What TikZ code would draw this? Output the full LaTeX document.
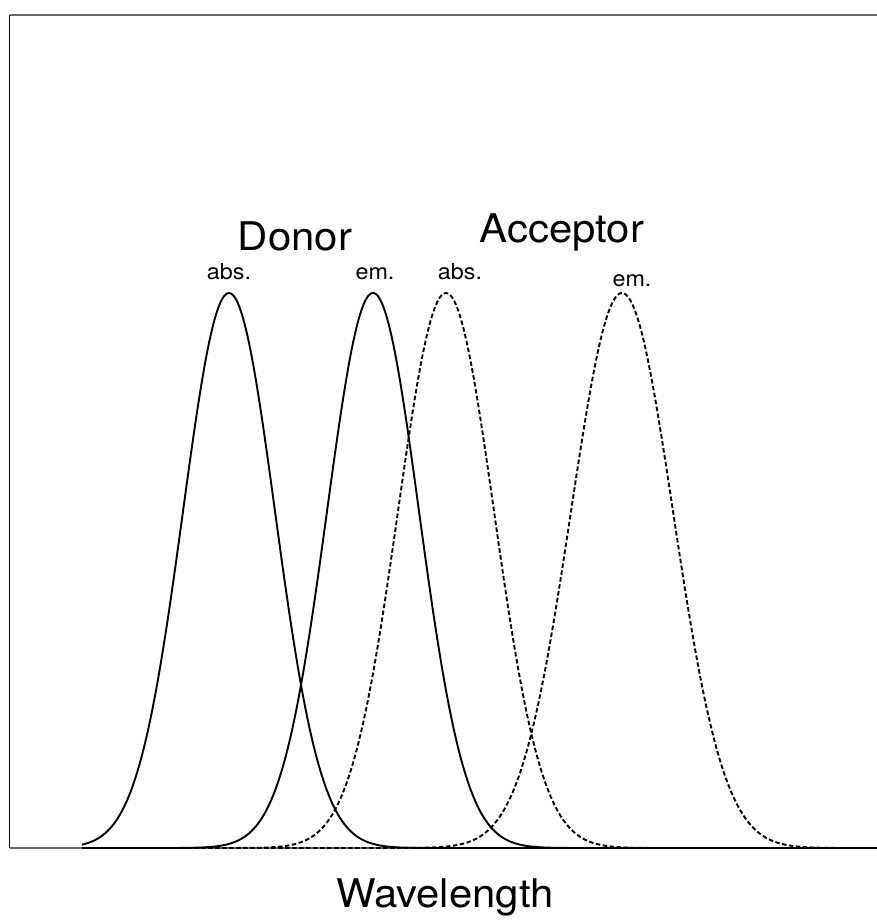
\documentclass[tikz,border=0pt]{standalone}
\usepackage{fontspec}
\setmainfont{TeX Gyre Heros}[FakeStretch=1.06]
\begin{document}
\begin{tikzpicture}[x=1pt,y=-1pt,
  frameline/.style={line width=1.3pt,black!60},
  spectrum/.style={line width=1.9pt,black,line join=round},
  dashspec/.style={spectrum,dash pattern=on 4.5pt off 2.5pt},
  biglabel/.style={font=\fontsize{39.5}{41}\selectfont,anchor=base,inner sep=0pt},
  smalllabel/.style={font=\fontsize{22}{24}\selectfont,anchor=base,inner sep=0pt}]
\useasboundingbox (0,0) rectangle (877,920);
% frame
\coordinate (tl) at (9.5,15);
\coordinate (tr) at (877,15);
\coordinate (bl) at (9.5,848);
\coordinate (br) at (877,848);
\draw[frameline] (tr) -- (tl);
\draw[line width=1.3pt,black] (tl) -- (bl);
\draw[frameline] (bl) -- (br);
% spectra
\draw[spectrum] plot[domain=82:877,samples=320,smooth] (\x,{848-555*exp(-0.5*((\x-229)/46)^2)});
\draw[spectrum] plot[domain=82:877,samples=320,smooth] (\x,{848-555*exp(-0.5*((\x-373)/46)^2)});
\draw[dashspec] plot[domain=82:877,samples=320,smooth] (\x,{848-555*exp(-0.5*((\x-446)/48)^2)});
\draw[dashspec] plot[domain=82:877,samples=320,smooth] (\x,{848-555*exp(-0.5*((\x-622)/51)^2)});
% labels
\node[biglabel] (donor) at (295,250) {Donor};
\node[biglabel] (acceptor) at (562,242) {Acceptor};
\node[smalllabel] (dabs) at (229,279) {abs.};
\node[smalllabel] (dem) at (375,279) {em.};
\node[smalllabel] (aabs) at (460,279) {abs.};
\node[smalllabel] (aem) at (632,286) {em.};
\node[biglabel] (wl) at (445,907) {Wavelength};
\end{tikzpicture}
\end{document}
